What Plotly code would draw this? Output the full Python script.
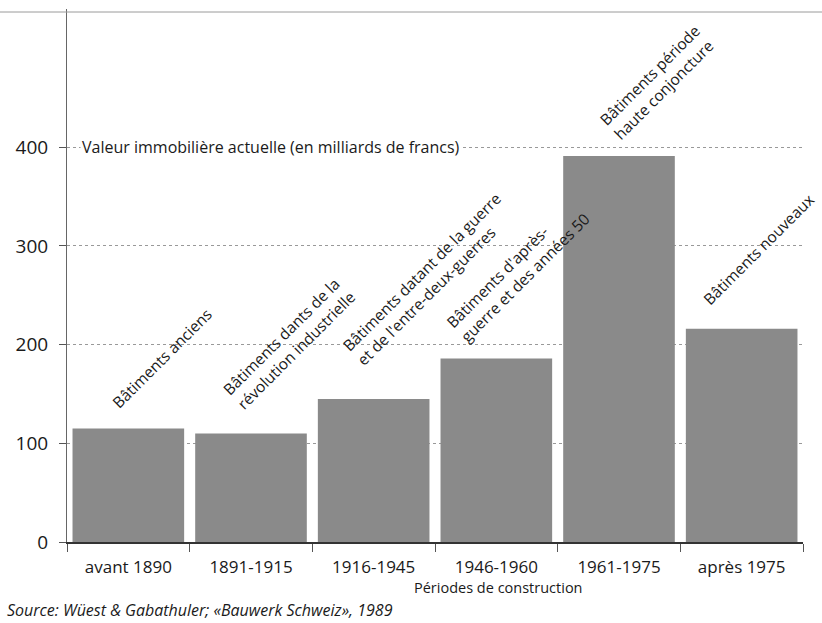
import plotly.graph_objects as go

categories = ["avant 1890", "1891-1915", "1916-1945", "1946-1960", "1961-1975", "après 1975"]
values = [115, 110, 145, 186, 391, 216]
bar_labels = [
    "Bâtiments anciens",
    "Bâtiments dants de la<br>révolution industrielle",
    "Bâtiments datant de la guerre<br>et de l'entre-deux-guerres",
    "Bâtiments d'après-<br>guerre et des années 50",
    "Bâtiments période<br>haute conjoncture",
    "Bâtiments nouveaux",
]
y_ticks = [0, 100, 200, 300, 400]
y_title = "Valeur immobilière actuelle (en milliards de francs)"
x_title = "Périodes de construction"
source = "Source: Wüest & Gabathuler; «Bauwerk Schweiz», 1989"

# label offsets (px) relative to bar top centre
label_shift = [(34, 70), (38, 90), (55, 120), (22, 88), (38, 74), (17, 80)]

FONT = "Open Sans"
TXT = "#1a1a1a"
W, H = 822, 623
ML, MR, MT, MB = 67, 19, 9, 81
PW, PH = W - ML - MR, H - MT - MB

fig = go.Figure()
fig.add_trace(go.Bar(
    x=categories, y=values,
    marker=dict(color="#8a8a8a", line=dict(width=0)),
    width=0.91,
))

for cat, val, lab, (dx, dy) in zip(categories, values, bar_labels, label_shift):
    fig.add_annotation(
        x=cat, y=val, xref="x", yref="y", text=lab, showarrow=False,
        textangle=-45, xanchor="center", yanchor="middle", align="left",
        xshift=dx, yshift=dy,
        font=dict(family=FONT, size=15.5, color=TXT),
    )

fig.add_annotation(
    x=(80 - ML) / PW, y=400, xref="paper", yref="y", text=y_title, showarrow=False,
    xanchor="left", yanchor="middle", bgcolor="white", borderpad=1,
    font=dict(family=FONT, size=16, color=TXT),
)

fig.add_annotation(
    x=(498 - ML) / PW, y=(H - MB - 587) / PH, xref="paper", yref="paper", text=x_title,
    showarrow=False, xanchor="center", yanchor="middle",
    font=dict(family=FONT, size=14.5, color=TXT),
)

fig.add_annotation(
    x=(5 - ML) / PW, y=(H - MB - 610) / PH, xref="paper", yref="paper", text="<i>" + source + "</i>",
    showarrow=False, xanchor="left", yanchor="middle",
    font=dict(family=FONT, size=16, color=TXT),
)

# scan frame line at top
fig.add_shape(type="line", xref="paper", yref="paper",
              x0=-ML / PW, x1=(W - ML) / PW, y0=(H - MB - 12) / PH, y1=(H - MB - 12) / PH,
              line=dict(color="#9a9a9a", width=1))

fig.update_layout(
    width=W, height=H,
    margin=dict(l=ML, r=MR, t=MT, b=MB, autoexpand=False),
    paper_bgcolor="white", plot_bgcolor="white",
    showlegend=False,
    bargap=0.09,
    font=dict(family=FONT, color=TXT),
    xaxis=dict(
        type="category", showgrid=False, showline=True, linecolor="#333", linewidth=1.5,
        ticks="outside", tickson="boundaries", ticklen=8, tickcolor="#555",
        tickfont=dict(family=FONT, size=17, color=TXT), ticklabelstandoff=9,
        range=[-0.5, 5.5],
    ),
    yaxis=dict(
        range=[0, 540], tickvals=y_ticks, showline=True, linecolor="#666", linewidth=1,
        ticks="outside", ticklen=7, tickcolor="#555",
        showgrid=True, gridcolor="#999999", griddash="dot", gridwidth=1,
        zeroline=False, ticklabelstandoff=7,
        tickfont=dict(family=FONT, size=19, color=TXT),
    ),
)

fig.write_html("out.html", config={"displayModeBar": False},
               post_script="document.body.style.margin='0px';")
